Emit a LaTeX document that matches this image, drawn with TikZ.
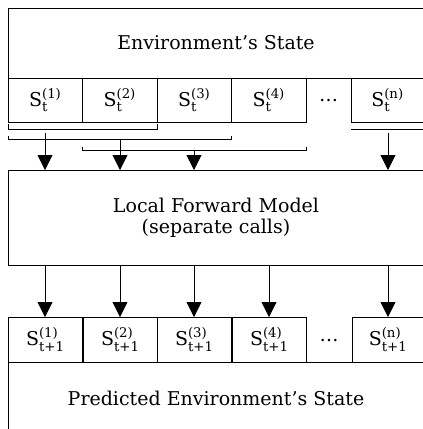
\documentclass[tikz,border=0pt]{standalone}
\usepackage{amsmath}
\usepackage{fontspec}
\setmainfont{DejaVu Serif}
\usetikzlibrary{arrows.meta}
\begin{document}
\begin{tikzpicture}[x=1pt,y=-1pt,line width=0.8pt,
  txt/.style={font=\fontsize{19}{21}\selectfont,align=center},
  bigbox/.style={draw,txt,inner sep=0pt,outer sep=0pt,minimum width=416pt,anchor=north west},
  cell/.style={draw,txt,inner sep=0pt,outer sep=0pt,minimum width=74.5pt,anchor=north west},
  ncell/.style={cell,minimum width=73pt},
  arr/.style={-{Triangle[width=15pt,length=15pt]}},
  brk/.style={line cap=rect}]
\clip (0,0) rectangle (423,429);

% current state
\node[bigbox,minimum height=70pt] (env) at (8,8) {Environment’s State};
\foreach \i/\x in {1/8,2/82.5,3/157,4/231.5}
  \node[cell,minimum height=44pt] (s\i) at (\x,78) {$\text{S}^{\text{(\i)}}_{\text{t}}$};
\node[ncell,minimum height=44pt] (sn) at (351,78) {$\text{S}^{\text{(n)}}_{\text{t}}$};
\node[txt,anchor=base] (dots) at (328.5,101) {…};

% groupings of state parts
\draw[brk] (8,124) -- (8,129) -- (157,129) -- (157,124);
\draw[brk] (8,136) -- (8,139) -- (231.5,139) -- (231.5,136);
\draw[brk] (82.5,147) -- (82.5,150) -- (306,150) -- (306,147);
\draw (351,129) -- (424,129);

% local forward model
\node[bigbox,minimum height=95pt] (lfm) at (8,170) {Local Forward Model\\(separate calls)};

\coordinate (a1) at (45,133);
\coordinate (a2) at (120,139);
\coordinate (a3) at (194,150);
\coordinate (an) at (388,133);
\foreach \a in {a1,a2,a3,an}
  \draw[arr] (\a) -- (\a |- lfm.north);

% predicted state
\foreach \i/\x in {1/8,2/83,3/157,4/232}
  \node[cell,minimum height=45pt] (p\i) at (\x,317) {$\text{S}^{\text{(\i)}}_{\text{t+1}}$};
\node[ncell,minimum height=45pt,minimum width=72pt] (pn) at (352,317) {$\text{S}^{\text{(n)}}_{\text{t+1}}$};
\node[txt,anchor=base] (pdots) at (329,341) {…};
\node[bigbox,minimum height=72pt] (pred) at (8,362) {Predicted Environment’s State};

\foreach \x in {45,120,194,269,388}
  \draw[arr] (lfm.south -| \x,0) -- (p1.north -| \x,0);
\end{tikzpicture}
\end{document}
